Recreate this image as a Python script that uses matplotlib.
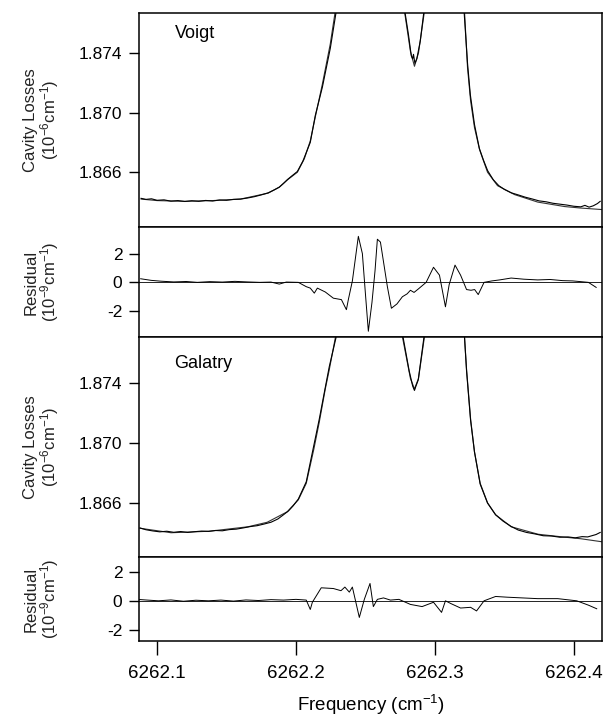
import numpy as np
import matplotlib.pyplot as plt

plt.rcParams['font.family'] = ['Liberation Sans', 'DejaVu Sans']
plt.rcParams['mathtext.default'] = 'regular'
plt.rcParams['axes.unicode_minus'] = False

# Voigt fit (smooth) -- values above the axis top are clipped peaks
voigt_fit_f = [6262.0885, 6262.100, 6262.120, 6262.140, 6262.160, 6262.170, 6262.180, 6262.188,
               6262.194, 6262.201, 6262.206, 6262.2103, 6262.2139, 6262.219, 6262.2247, 6262.2283,
               6262.240, 6262.270, 6262.2781, 6262.2824, 6262.2853, 6262.2882, 6262.2925, 6262.300,
               6262.315, 6262.3213, 6262.3235, 6262.3257, 6262.3285, 6262.3322, 6262.3379, 6262.3451,
               6262.3574, 6262.374, 6262.3934, 6262.405, 6262.420]
voigt_fit = [1.8642, 1.8641, 1.86405, 1.8641, 1.8642, 1.8644, 1.8646, 1.8650,
             1.8655, 1.8660, 1.8669, 1.8681, 1.8697, 1.8719, 1.8746, 1.8768,
             1.890, 1.890, 1.8768, 1.8741, 1.8731, 1.8740, 1.8768, 1.890,
             1.890, 1.8768, 1.8730, 1.8708, 1.8690, 1.8675, 1.8660, 1.8651,
             1.8645, 1.8640, 1.8637, 1.8636, 1.8635]

# Voigt panel measured trace
voigt_obs_f = [6262.0885, 6262.092, 6262.096, 6262.100, 6262.105, 6262.110, 6262.115, 6262.120,
               6262.125, 6262.130, 6262.135, 6262.140, 6262.145, 6262.150, 6262.155, 6262.160,
               6262.165, 6262.170, 6262.175, 6262.180, 6262.184, 6262.188, 6262.191, 6262.194,
               6262.197, 6262.201, 6262.205, 6262.2103, 6262.2139, 6262.219, 6262.2247, 6262.229,
               6262.240, 6262.272, 6262.2785, 6262.2810, 6262.2830, 6262.2840, 6262.2846, 6262.2856,
               6262.2870, 6262.2895, 6262.2920, 6262.300, 6262.315, 6262.3210, 6262.3235, 6262.3255,
               6262.3285, 6262.3320, 6262.3350, 6262.3380, 6262.3420, 6262.3460, 6262.350, 6262.355,
               6262.360, 6262.365, 6262.370, 6262.375, 6262.380, 6262.385, 6262.390, 6262.395,
               6262.400, 6262.405, 6262.408, 6262.411, 6262.414, 6262.417, 6262.419]
voigt_obs = [1.86425, 1.86418, 1.86422, 1.86412, 1.86415, 1.86406, 1.86410, 1.86404,
             1.86409, 1.86405, 1.86411, 1.86407, 1.86414, 1.86412, 1.86418, 1.86420,
             1.86427, 1.86436, 1.86448, 1.86462, 1.86480, 1.86500, 1.86525, 1.86552,
             1.86575, 1.86605, 1.86675, 1.86800, 1.86980, 1.87170, 1.87430, 1.87680,
             1.890, 1.890, 1.8767, 1.8752, 1.8738, 1.8736, 1.8739, 1.8733,
             1.8736, 1.8748, 1.8767, 1.890, 1.890, 1.8768, 1.8733, 1.8712,
             1.8692, 1.8676, 1.8668, 1.8661, 1.8655, 1.8651, 1.86485, 1.86462,
             1.86448, 1.86433, 1.86421, 1.86408, 1.86402, 1.86392, 1.86386, 1.86380,
             1.86372, 1.86368, 1.86378, 1.86366, 1.86375, 1.86390, 1.86405]

# Voigt residual (1e-9 cm-1)
voigt_res_f = [6262.0882, 6262.0957, 6262.103, 6262.112, 6262.121, 6262.129, 6262.138, 6262.147,
               6262.156, 6262.165, 6262.174, 6262.182, 6262.188, 6262.193, 6262.2017, 6262.2074,
               6262.2103, 6262.2132, 6262.2154, 6262.2211, 6262.2269, 6262.2327, 6262.2363, 6262.2377,
               6262.2406, 6262.2449, 6262.2478, 6262.2500, 6262.2521, 6262.2547, 6262.2569, 6262.2586,
               6262.2608, 6262.2629, 6262.2658, 6262.2687, 6262.2727, 6262.2766, 6262.2800, 6262.2824,
               6262.2850, 6262.2882, 6262.2937, 6262.2990, 6262.3033, 6262.3076, 6262.3103, 6262.3145,
               6262.3185, 6262.3228, 6262.3260, 6262.3286, 6262.3312, 6262.3354, 6262.3410, 6262.3466,
               6262.3549, 6262.3640, 6262.3740, 6262.3830, 6262.3920, 6262.3992, 6262.4050, 6262.4105,
               6262.4161]
voigt_res = [0.25, 0.14, 0.08, 0.03, 0.06, 0.0, 0.05, 0.02,
             0.07, 0.03, 0.0, 0.02, -0.12, 0.02, 0.0, -0.3,
             -0.4, -0.75, -0.4, -0.67, -1.1, -1.2, -1.9, -1.2,
             0.1, 3.2, 2.0, -0.8, -3.4, -1.4, 0.8, 3.0,
             2.8, 1.5, -0.3, -1.8, -1.5, -1.0, -0.8, -0.55,
             -0.7, -0.45, 0.0, 1.05, 0.5, -1.7, -0.15, 1.2,
             0.5, -0.5, -0.55, -0.5, -0.85, 0.0, 0.1, 0.17,
             0.3, 0.22, 0.17, 0.2, 0.12, 0.1, 0.05, 0.0,
             -0.35]

# Galatry fit
galatry_fit_f = [6262.0877, 6262.1101, 6262.1375, 6262.1656, 6262.1793, 6262.1937, 6262.2017, 6262.2074,
                 6262.2129, 6262.2168, 6262.2211, 6262.2240, 6262.2285, 6262.240, 6262.270, 6262.2766,
                 6262.2824, 6262.2853, 6262.2882, 6262.2925, 6262.300, 6262.315, 6262.3213, 6262.3228,
                 6262.3257, 6262.3285, 6262.3326, 6262.3379, 6262.3437, 6262.3549, 6262.3743, 6262.3939,
                 6262.4050, 6262.4200]
galatry_fit = [1.8643, 1.8640, 1.8641, 1.8644, 1.8647, 1.8654, 1.8662, 1.8673,
               1.8696, 1.8714, 1.8736, 1.8749, 1.8771, 1.890, 1.890, 1.8771,
               1.8743, 1.8736, 1.8743, 1.8771, 1.890, 1.890, 1.8771, 1.8749,
               1.8716, 1.8694, 1.8673, 1.8660, 1.8652, 1.8644, 1.8639, 1.8637,
               1.8636, 1.8634]

# Galatry panel measured trace
galatry_obs_f = [6262.0877, 6262.092, 6262.097, 6262.102, 6262.107, 6262.112, 6262.117, 6262.122,
                 6262.127, 6262.132, 6262.137, 6262.142, 6262.147, 6262.152, 6262.157, 6262.162,
                 6262.167, 6262.172, 6262.177, 6262.182, 6262.187, 6262.191, 6262.1945, 6262.198,
                 6262.2017, 6262.2074, 6262.2129, 6262.2168, 6262.2211, 6262.2240, 6262.2290, 6262.240,
                 6262.270, 6262.2770, 6262.2815, 6262.2840, 6262.2853, 6262.2862, 6262.2880, 6262.2922,
                 6262.300, 6262.315, 6262.3213, 6262.3228, 6262.3257, 6262.3285, 6262.3326, 6262.3379,
                 6262.3437, 6262.3490, 6262.3549, 6262.360, 6262.366, 6262.372, 6262.378, 6262.384,
                 6262.390, 6262.396, 6262.401, 6262.406, 6262.410, 6262.413, 6262.416, 6262.419]
galatry_obs = [1.86432, 1.86420, 1.86412, 1.86406, 1.86410, 1.86403, 1.86408, 1.86402,
               1.86407, 1.86411, 1.86409, 1.86415, 1.86413, 1.86421, 1.86424, 1.86432,
               1.86441, 1.86447, 1.86458, 1.86470, 1.86492, 1.86520, 1.86545, 1.86580,
               1.86625, 1.86740, 1.86985, 1.87160, 1.87370, 1.87510, 1.87710, 1.890,
               1.890, 1.87710, 1.87480, 1.87380, 1.87350, 1.87375, 1.87420, 1.87710,
               1.890, 1.890, 1.87710, 1.87480, 1.87150, 1.86940, 1.86725, 1.86598,
               1.86520, 1.86478, 1.86442, 1.86418, 1.86402, 1.86392, 1.86380, 1.86378,
               1.86370, 1.86372, 1.86366, 1.86374, 1.86372, 1.86380, 1.86388, 1.86402]

# Galatry residual (1e-9 cm-1)
galatry_res_f = [6262.0856, 6262.093, 6262.101, 6262.110, 6262.119, 6262.128, 6262.137, 6262.146,
                 6262.155, 6262.164, 6262.173, 6262.182, 6262.191, 6262.200, 6262.2074, 6262.2103,
                 6262.2118, 6262.2182, 6262.2269, 6262.2324, 6262.2352, 6262.2384, 6262.2406, 6262.2456,
                 6262.2492, 6262.2533, 6262.2557, 6262.2586, 6262.2630, 6262.2680, 6262.2741, 6262.2824,
                 6262.2908, 6262.2990, 6262.3048, 6262.3076, 6262.3117, 6262.3185, 6262.3257, 6262.3300,
                 6262.3354, 6262.3437, 6262.3521, 6262.3630, 6262.3740, 6262.3884, 6262.4021, 6262.4105,
                 6262.4165]
galatry_res = [0.1, 0.05, 0.0, 0.06, -0.03, 0.04, 0.0, 0.05,
               -0.02, 0.06, 0.02, 0.08, 0.05, 0.1, 0.05, -0.6,
               -0.1, 0.9, 0.85, 0.7, 0.95, 0.6, 0.95, -1.15,
               0.1, 1.2, -0.4, 0.1, 0.2, 0.05, 0.1, -0.25,
               -0.4, -0.1, -0.8, 0.0, -0.2, -0.5, -0.45, -0.7,
               0.0, 0.3, 0.25, 0.2, 0.15, 0.15, 0.0, -0.3,
               -0.55]

x_ticks = [6262.1, 6262.2, 6262.3, 6262.4]
x_ticklabels = ['6262.1', '6262.2', '6262.3', '6262.4']

fig = plt.figure(figsize=(6.05, 7.17), dpi=100)
L, W = 139 / 605, 463 / 605
ax1 = fig.add_axes([L, 490 / 717, W, 214 / 717])
ax2 = fig.add_axes([L, 380 / 717, W, 110 / 717], sharex=ax1)
ax3 = fig.add_axes([L, 160 / 717, W, 220 / 717], sharex=ax1)
ax4 = fig.add_axes([L, 76 / 717, W, 84 / 717], sharex=ax1)

lw = 0.8
ax1.plot(voigt_fit_f, voigt_fit, color='#333333', lw=lw)
ax1.plot(voigt_obs_f, voigt_obs, color='black', lw=lw)
ax1.set_ylim(1.86233, 1.87667)
ax1.set_yticks([1.866, 1.870, 1.874])
ax1.set_yticklabels(['1.866', '1.870', '1.874'])
ax1.text(0.078, 0.905, 'Voigt', transform=ax1.transAxes, fontsize=13, va='center')

ax2.axhline(0, color='black', lw=0.6)
ax2.plot(voigt_res_f, voigt_res, color='black', lw=0.7)
ax2.set_ylim(-3.8, 3.85)
ax2.set_yticks([-2, 0, 2])

ax3.plot(galatry_fit_f, galatry_fit, color='#333333', lw=lw)
ax3.plot(galatry_obs_f, galatry_obs, color='black', lw=lw)
ax3.set_ylim(1.86238, 1.87707)
ax3.set_yticks([1.866, 1.870, 1.874])
ax3.set_yticklabels(['1.866', '1.870', '1.874'])
ax3.text(0.076, 0.88, 'Galatry', transform=ax3.transAxes, fontsize=13, va='center')

ax4.axhline(0, color='black', lw=0.6)
ax4.plot(galatry_res_f, galatry_res, color='black', lw=0.7)
ax4.set_ylim(-2.78, 3.03)
ax4.set_yticks([-2, 0, 2])

for ax in (ax1, ax2, ax3, ax4):
    for s in ax.spines.values():
        s.set_linewidth(1.1)
    ax.tick_params(axis='y', direction='out', length=7, width=1.0, labelsize=12.5, pad=5)
    ax.tick_params(axis='x', bottom=False, labelbottom=False)

ax1.set_xlim(6262.087, 6262.4203)
ax4.set_xticks(x_ticks)
ax4.set_xticklabels(x_ticklabels)
ax4.tick_params(axis='x', bottom=True, labelbottom=True, direction='out',
                length=10, width=1.0, labelsize=13.5, pad=7)
ax4.set_xlabel('Frequency (cm$^{-1}$)', fontsize=13.5, labelpad=8)

for ax, lab in ((ax1, 'Cavity Losses\n(10$^{-6}$cm$^{-1}$)'),
                (ax2, 'Residual\n(10$^{-9}$cm$^{-1}$)'),
                (ax3, 'Cavity Losses\n(10$^{-6}$cm$^{-1}$)'),
                (ax4, 'Residual\n(10$^{-9}$cm$^{-1}$)')):
    ax.set_ylabel(lab, fontsize=12, linespacing=1.0, color='#222222')
    ax.yaxis.set_label_coords(-0.168, 0.5)

fig.savefig('out.png', dpi=100)
